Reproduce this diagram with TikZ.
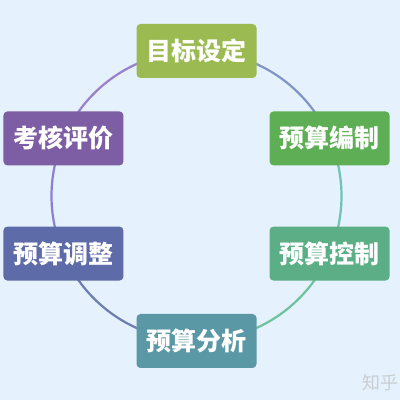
\documentclass[tikz,border=0pt]{standalone}
\usepackage{fontspec}
\newfontfamily\cjk{Noto Sans CJK SC}
\usetikzlibrary{calc}
\definecolor{bg}{HTML}{E5F1FC}
\definecolor{cA}{HTML}{9BBB52}
\definecolor{cB}{HTML}{5DAE55}
\definecolor{cC}{HTML}{5BAE85}
\definecolor{cD}{HTML}{5B98A6}
\definecolor{cE}{HTML}{5E6BA9}
\definecolor{cF}{HTML}{7D5EA5}
\definecolor{aAF}{HTML}{9A80CC}
\definecolor{aFE}{HTML}{8C7FD0}
\definecolor{aED}{HTML}{6E7DB0}
\definecolor{aDC}{HTML}{6CC39C}
\definecolor{aCB}{HTML}{6DC4B2}
\definecolor{aBA}{HTML}{8095C6}
\definecolor{mark}{HTML}{C9CED3}
\tikzset{
  stagebox/.style={rounded corners=4pt, minimum width=120pt, minimum height=54pt,
    inner sep=0pt, text=white, font=\cjk\bfseries\fontsize{25}{25}\selectfont},
  ring/.style={line width=2.2pt}
}
\begin{document}
\begin{tikzpicture}[x=1pt,y=1pt]
\fill[bg] (0,0) rectangle (400,400);
\useasboundingbox (0,0) rectangle (400,400);
\coordinate (o) at (196.5,204);
\def\R{145}
% ring segments between the stages
\coordinate (pA) at ($(o)+(90:\R)$);
\coordinate (pB) at ($(o)+(23.4:\R)$);
\coordinate (pC) at ($(o)+(-23.4:\R)$);
\coordinate (pD) at ($(o)+(-90:\R)$);
\coordinate (pE) at ($(o)+(-156.6:\R)$);
\coordinate (pF) at ($(o)+(156.6:\R)$);
\draw[ring, aAF] (pA) arc[start angle=90, end angle=156.6, radius=\R];
\draw[ring, aFE] (pF) arc[start angle=156.6, end angle=203.4, radius=\R];
\draw[ring, aED] (pE) arc[start angle=203.4, end angle=270, radius=\R];
\draw[ring, aDC] (pD) arc[start angle=270, end angle=336.6, radius=\R];
\draw[ring, aCB] (pC) arc[start angle=-23.4, end angle=23.4, radius=\R];
\draw[ring, aBA] (pB) arc[start angle=23.4, end angle=90, radius=\R];
% stage boxes
\node[stagebox, fill=cA] (A) at (pA) {目标设定};
\node[stagebox, fill=cB] (B) at (pB) {预算编制};
\node[stagebox, fill=cC] (C) at (pC) {预算控制};
\node[stagebox, fill=cD] (D) at (pD) {预算分析};
\node[stagebox, fill=cE] (E) at (pE) {预算调整};
\node[stagebox, fill=cF] (F) at (pF) {考核评价};
% corner mark
\node[anchor=east, text=mark, inner sep=0pt, font=\cjk\fontsize{18}{18}\selectfont] (wm) at (399,17) {知乎};
\end{tikzpicture}
\end{document}
